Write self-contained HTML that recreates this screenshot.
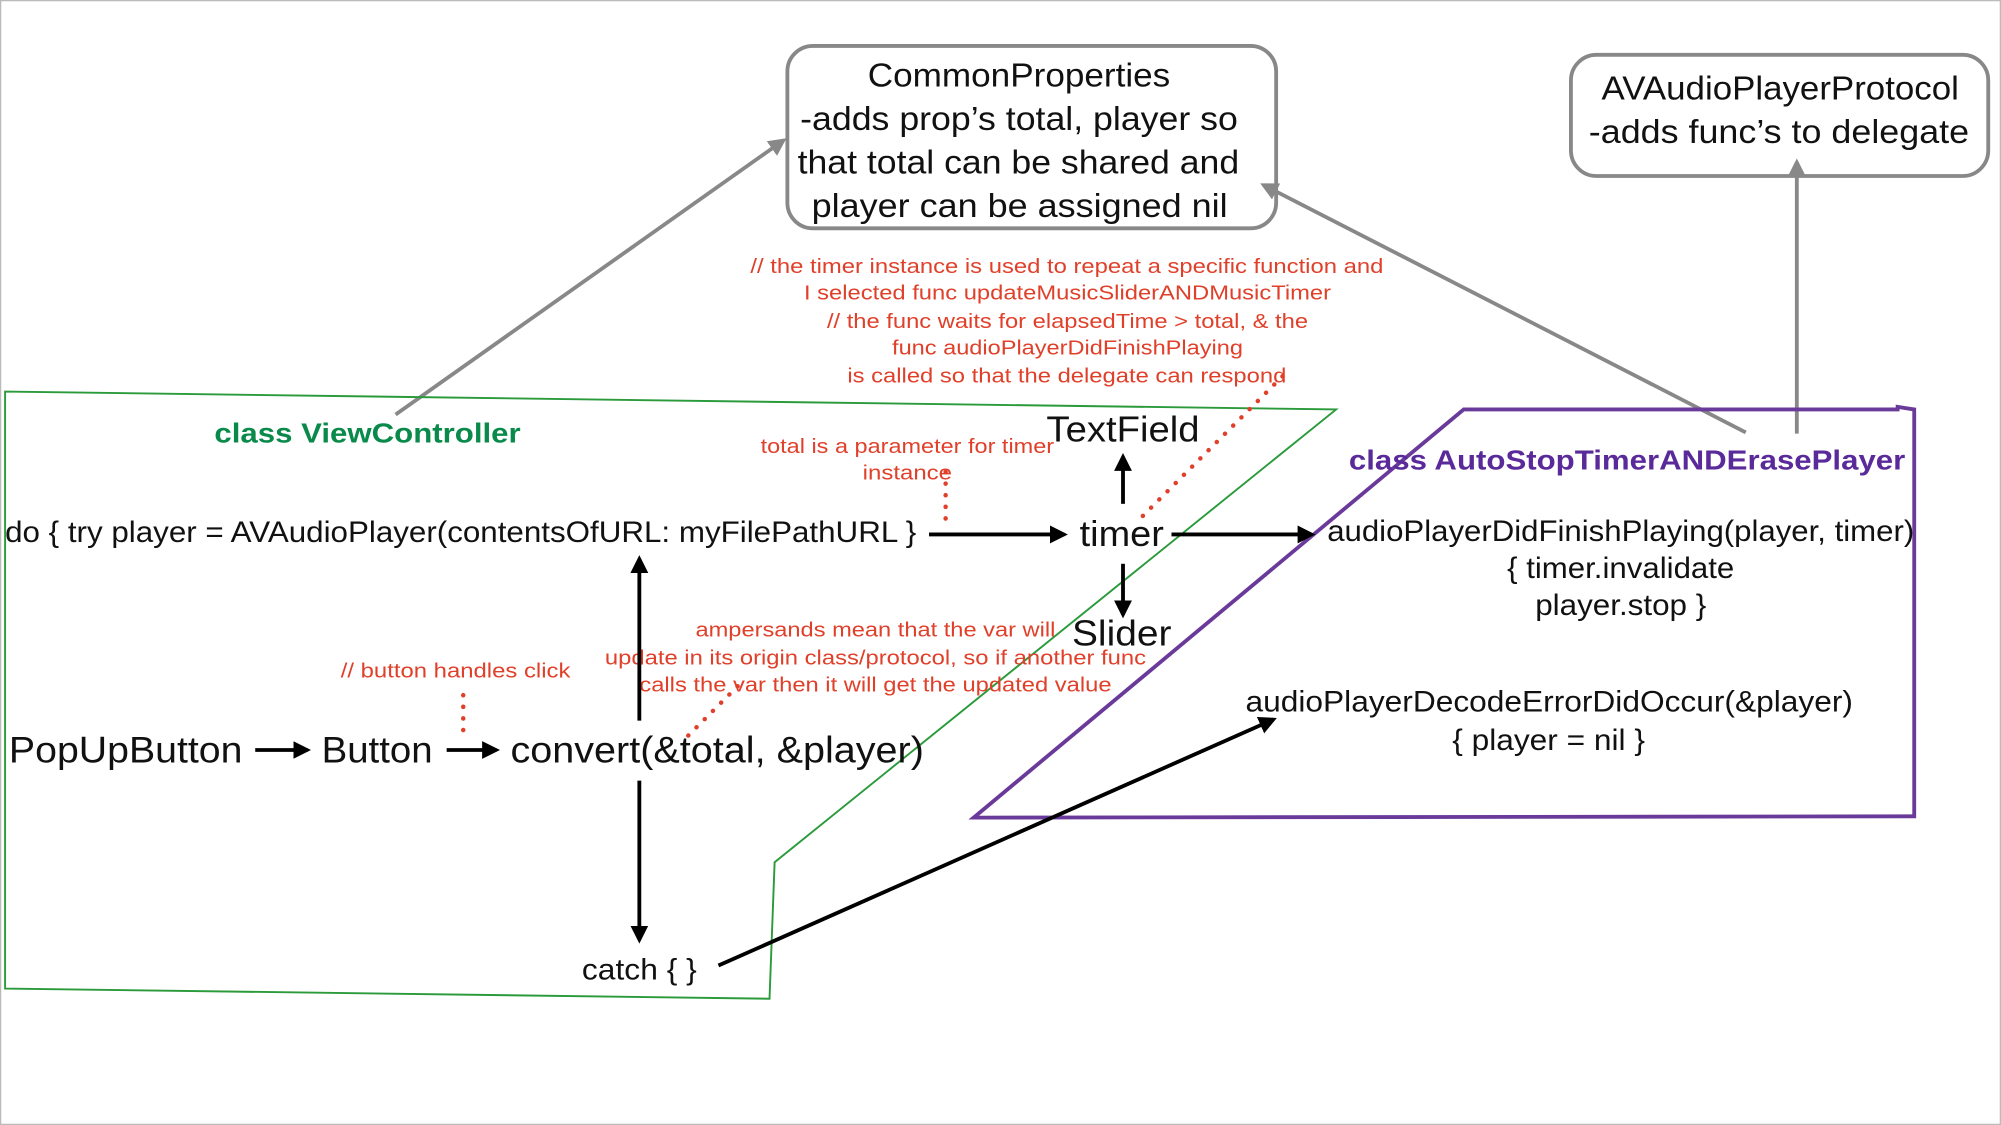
<!DOCTYPE html>
<html><head><meta charset="utf-8"><style>html,body{margin:0;padding:0;background:#fff}svg{display:block}</style></head>
<body>
<svg width="2001" height="1125" viewBox="0 0 1568 882" preserveAspectRatio="none" xmlns="http://www.w3.org/2000/svg" font-family="Liberation Sans, sans-serif">
<defs>
<marker id="ab" viewBox="0 0 10 10" markerWidth="14" markerHeight="14" refX="8" refY="5" orient="auto" markerUnits="userSpaceOnUse"><path d="M0,0 L10,5 L0,10 Z" fill="#000"/></marker>
<marker id="ag2" viewBox="0 0 10 10" markerWidth="14" markerHeight="14" refX="8" refY="5" orient="auto" markerUnits="userSpaceOnUse"><path d="M0,0 L10,5 L0,10 Z" fill="#888"/></marker>
</defs>
<rect x="0.5" y="0.5" width="1567" height="881" fill="#fff" stroke="#bbb" stroke-width="1"/>
<rect x="617" y="36" width="383" height="143" rx="20" fill="#fff" stroke="#888" stroke-width="3"/>
<g font-size="26" fill="#111" lengthAdjust="spacingAndGlyphs">
<text x="680" y="68" textLength="237" lengthAdjust="spacingAndGlyphs">CommonProperties</text>
<text x="627" y="102" textLength="343" lengthAdjust="spacingAndGlyphs">-adds prop’s total, player so</text>
<text x="625" y="136" textLength="346" lengthAdjust="spacingAndGlyphs">that total can be shared and</text>
<text x="636" y="170" textLength="326" lengthAdjust="spacingAndGlyphs">player can be assigned nil</text>
</g>
<rect x="1231" y="43" width="327" height="95" rx="20" fill="#fff" stroke="#888" stroke-width="3"/>
<g font-size="26" fill="#111">
<text x="1255" y="78" textLength="280" lengthAdjust="spacingAndGlyphs">AVAudioPlayerProtocol</text>
<text x="1245" y="112" textLength="298" lengthAdjust="spacingAndGlyphs">-adds func’s to delegate</text>
</g>
<g stroke="#888" stroke-width="3" fill="none">
<line x1="310" y1="325" x2="614" y2="110" marker-end="url(#ag2)"/>
<line x1="1368" y1="339" x2="990" y2="145" marker-end="url(#ag2)"/>
<line x1="1408" y1="340" x2="1408" y2="127" marker-end="url(#ag2)"/>
</g>
<polygon points="4,307 1047,321 607,676 603,783 4,775" fill="none" stroke="#2a9a3a" stroke-width="1.5"/>
<polygon points="1147,321 1487,321 1487,319 1500,321 1500,640 763,641" fill="none" stroke="#6a3a9a" stroke-width="3"/>
<text x="168" y="347" font-size="22" font-weight="bold" fill="#0a8a4a" textLength="240" lengthAdjust="spacingAndGlyphs">class ViewController</text>
<text x="1057" y="368" font-size="22" font-weight="bold" fill="#5a2a9a" textLength="436" lengthAdjust="spacingAndGlyphs">class AutoStopTimerANDErasePlayer</text>
<g font-size="16" fill="#e0402a">
<text x="588" y="214" textLength="496" lengthAdjust="spacingAndGlyphs">// the timer instance is used to repeat a specific function and</text>
<text x="630" y="235" textLength="413" lengthAdjust="spacingAndGlyphs">I selected func updateMusicSliderANDMusicTimer</text>
<text x="648" y="257" textLength="377" lengthAdjust="spacingAndGlyphs">// the func waits for elapsedTime &gt; total, &amp; the</text>
<text x="699" y="278" textLength="275" lengthAdjust="spacingAndGlyphs">func audioPlayerDidFinishPlaying</text>
<text x="664" y="300" textLength="344" lengthAdjust="spacingAndGlyphs">is called so that the delegate can respond</text>
<text x="596" y="355" textLength="230" lengthAdjust="spacingAndGlyphs">total is a parameter for timer</text>
<text x="676" y="376" textLength="70" lengthAdjust="spacingAndGlyphs">instance</text>
<text x="267" y="531" textLength="180" lengthAdjust="spacingAndGlyphs">// button handles click</text>
<text x="545" y="499" textLength="282" lengthAdjust="spacingAndGlyphs">ampersands mean that the var will</text>
<text x="474" y="521" textLength="424" lengthAdjust="spacingAndGlyphs">update in its origin class/protocol, so if another func</text>
<text x="501" y="542" textLength="370" lengthAdjust="spacingAndGlyphs">calls the var then it will get the updated value</text>
</g>
<g stroke="#e0402a" stroke-width="3.5" stroke-dasharray="0.1 9" stroke-linecap="round" fill="none">
<line x1="363" y1="545" x2="363" y2="580"/>
<line x1="741" y1="370" x2="741" y2="414"/>
<line x1="1005" y1="295" x2="890" y2="410"/>
<line x1="578" y1="538" x2="538" y2="578"/>
</g>
<g fill="#111">
<text x="4" y="425" font-size="23" textLength="714" lengthAdjust="spacingAndGlyphs">do { try player = AVAudioPlayer(contentsOfURL: myFilePathURL }</text>
<text x="846" y="428" font-size="28" textLength="66" lengthAdjust="spacingAndGlyphs">timer</text>
<text x="820" y="346" font-size="28" textLength="120" lengthAdjust="spacingAndGlyphs">TextField</text>
<text x="840" y="506" font-size="28" textLength="78" lengthAdjust="spacingAndGlyphs">Slider</text>
<text x="1040" y="424" font-size="23" textLength="460" lengthAdjust="spacingAndGlyphs">audioPlayerDidFinishPlaying(player, timer)</text>
<text x="1181" y="453" font-size="23" textLength="178" lengthAdjust="spacingAndGlyphs">{ timer.invalidate</text>
<text x="1203" y="482" font-size="23" textLength="134" lengthAdjust="spacingAndGlyphs">player.stop }</text>
<text x="976" y="558" font-size="23" textLength="476" lengthAdjust="spacingAndGlyphs">audioPlayerDecodeErrorDidOccur(&amp;player)</text>
<text x="1138" y="588" font-size="23" textLength="151" lengthAdjust="spacingAndGlyphs">{ player = nil }</text>
<text x="7" y="598" font-size="29" textLength="183" lengthAdjust="spacingAndGlyphs">PopUpButton</text>
<text x="252" y="598" font-size="29" textLength="87" lengthAdjust="spacingAndGlyphs">Button</text>
<text x="400" y="598" font-size="29" textLength="324" lengthAdjust="spacingAndGlyphs">convert(&amp;total, &amp;player)</text>
<text x="456" y="768" font-size="23" textLength="90" lengthAdjust="spacingAndGlyphs">catch { }</text>
</g>
<g stroke="#000" stroke-width="3" fill="none">
<line x1="728" y1="419" x2="834" y2="419" marker-end="url(#ab)"/>
<line x1="918" y1="419" x2="1028" y2="419" marker-end="url(#ab)"/>
<line x1="880" y1="395" x2="880" y2="358" marker-end="url(#ab)"/>
<line x1="880" y1="442" x2="880" y2="482" marker-end="url(#ab)"/>
<line x1="200" y1="588" x2="241" y2="588" marker-end="url(#ab)"/>
<line x1="350" y1="588" x2="389" y2="588" marker-end="url(#ab)"/>
<line x1="501" y1="565" x2="501" y2="438" marker-end="url(#ab)"/>
<line x1="501" y1="612" x2="501" y2="737" marker-end="url(#ab)"/>
<line x1="563" y1="757" x2="998" y2="564" marker-end="url(#ab)"/>
</g>
</svg>
</body></html>
